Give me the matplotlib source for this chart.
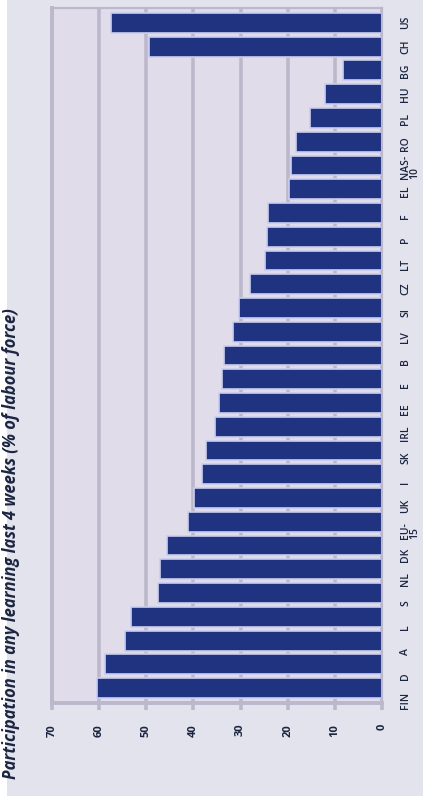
import numpy as np
import matplotlib.pyplot as plt
from matplotlib.patches import Rectangle

# Participation in any learning, last 4 weeks (% of labour force)
countries = ["FIN", "D", "A", "L", "S", "NL", "DK", "EU-\n15", "UK", "I",
             "SK", "IRL", "EE", "E", "B", "LV", "SI", "CZ", "LT", "P",
             "F", "EL", "NAS-\n10", "RO", "PL", "HU", "BG", "CH", "US"]
values = [60.4, 58.7, 54.5, 53.2, 47.6, 47.0, 45.7, 41.1, 39.8, 38.2,
          37.4, 35.5, 34.6, 33.9, 33.6, 31.6, 30.3, 28.0, 24.8, 24.5,
          24.1, 19.8, 19.2, 18.2, 15.3, 12.0, 8.2, 49.4, 57.4]
value_ticks = [0, 10, 20, 30, 40, 50, 60, 70]
title = "Participation in any learning last 4 weeks (% of labour force)"

W, H = 423, 796
bg = "#e3e3ee"
plot_bg = "#e1dcea"
grid_col = "#bcb8cc"
bar_col = "#1f3380"
text_col = "#1c2540"

plt.rcParams['font.family'] = ['Open Sans', 'DejaVu Sans']

fig = plt.figure(figsize=(W / 100, H / 100), dpi=100)
fig.patch.set_facecolor(bg)
fig.patches.append(Rectangle((0, 0), 7 / W, 1, transform=fig.transFigure,
                             facecolor="white", edgecolor="none", zorder=0))

ax = fig.add_axes([52 / W, (H - 703) / H, (382 - 52) / W, (703 - 8) / H])
ax.set_facecolor(plot_bg)

y = np.arange(len(countries))
ax.barh(y, values, height=0.84, color=bar_col, edgecolor="#c9cdf0",
        linewidth=1.2, zorder=3)

ax.set_xlim(70, 0)
ax.set_ylim(-0.63, len(countries) - 0.37)

ax.set_xticks(value_ticks)
ax.set_xticklabels([str(v) for v in value_ticks], rotation=90,
                   fontsize=8, color=text_col, fontweight="bold")
ax.xaxis.grid(True, color=grid_col, linewidth=2.6, zorder=1)
ax.tick_params(axis="x", length=5, width=2.6, color=grid_col, pad=10)
ax.set_yticks([])

# category labels sit on a slightly different spacing than the bars
lab = ax.twinx()
lab.set_ylim(-0.12, len(countries) - 0.42)
lab.set_yticks(y)
lab.set_yticklabels(countries, rotation=90, fontsize=7.5, color=text_col,
                    fontweight="semibold", va="center", ha="left",
                    linespacing=0.8)
lab.tick_params(axis="y", length=0, pad=13)

for a in (ax, lab):
    for side in ["left", "bottom", "top", "right"]:
        a.spines[side].set_color(grid_col)
        a.spines[side].set_linewidth(2.6)
    a.spines["right"].set_linewidth(1.5)
    a.spines["top"].set_linewidth(1.5)

fig.text(1.5 / W, (H - 308) / H, title, rotation=90, ha="left", va="top",
         fontsize=11.9, fontstyle="italic", fontweight="bold", color=text_col)

fig.savefig("out.png", dpi=100, facecolor=bg)
